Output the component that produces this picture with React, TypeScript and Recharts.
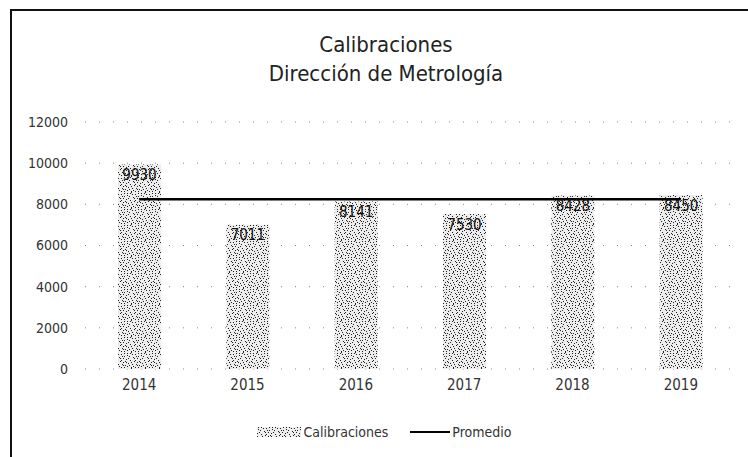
import React from 'react';
import { ComposedChart, Bar, Line, XAxis, YAxis, CartesianGrid, LabelList, Legend } from 'recharts';

const years = ['2014', '2015', '2016', '2017', '2018', '2019'];
const calibraciones = [9930, 7011, 8141, 7530, 8428, 8450];
const promedio = [8248, 8248, 8248, 8248, 8248, 8248];
const yTicks = [0, 2000, 4000, 6000, 8000, 10000, 12000];
const titleLines = ['Calibraciones', 'Dirección de Metrología'];
const seriesNames = ['Calibraciones', 'Promedio'];

const data = years.map((y, i) => ({ year: y, calibraciones: calibraciones[i], promedio: promedio[i] }));

const FONT = '"Liberation Sans Narrow", "DejaVu Sans Condensed", "Liberation Sans", sans-serif';

const DOTS: [number, number][] = [
  [1, 1], [5, 0], [9, 2], [12, 1], [3, 4], [7, 5], [11, 6], [0, 7], [4, 8], [8, 9],
  [13, 9], [2, 11], [6, 12], [10, 12], [13, 13], [1, 14], [5, 15], [9, 15], [12, 4], [6, 2],
  [3, 13], [11, 10], [8, 6], [0, 10], [2, 6], [10, 4], [7, 14], [4, 1], [12, 15], [9, 8],
  [5, 10], [1, 3], [11, 13],
];

const LegendContent = () => (
  <div style={{ display: 'flex', justifyContent: 'center', alignItems: 'center', fontFamily: FONT, fontSize: 14, color: '#333', paddingLeft: 20 }}>
    <svg width={44} height={12} style={{ marginRight: 3 }}>
      <rect x={0} y={1} width={44} height={10} fill="url(#stipple)" />
    </svg>
    <span style={{ marginRight: 22 }}>{seriesNames[0]}</span>
    <svg width={40} height={12} style={{ marginRight: 2 }}>
      <line x1={0} y1={6} x2={40} y2={6} stroke="#000" strokeWidth={2} />
    </svg>
    <span>{seriesNames[1]}</span>
  </div>
);

export default function App() {
  return (
    <div style={{ position: 'absolute', left: 0, top: 0, width: 748, height: 457, background: '#fff', overflow: 'hidden' }}>
      <div style={{ position: 'absolute', left: 10, top: 9, width: 760, height: 470, borderLeft: '2px solid #111', borderTop: '2px solid #111' }} />
      <div style={{ position: 'absolute', left: 0, top: 30, width: 772, textAlign: 'center', fontFamily: FONT, fontSize: 22, lineHeight: '29px', color: '#222' }}>
        <div>{titleLines[0]}</div>
        <div>{titleLines[1]}</div>
      </div>
      <div style={{ position: 'absolute', left: 0, top: 0 }}>
        <ComposedChart width={748} height={457} data={data} margin={{ top: 122, right: 13, left: 10, bottom: 28 }}>
          <defs>
            <pattern id="stipple" width={14} height={16} patternUnits="userSpaceOnUse">
              <rect width={14} height={16} fill="#ededed" />
              {DOTS.map(([x, y], i) => (
                <rect key={i} x={x} y={y} width={1} height={1} fill="#222" />
              ))}
            </pattern>
          </defs>
          <CartesianGrid vertical={false} stroke="#888" strokeDasharray="1 13" />
          <XAxis dataKey="year" axisLine={false} tickLine={false} height={30} tickMargin={4}
            tick={{ fontFamily: FONT, fontSize: 15, fill: '#333' }} />
          <YAxis domain={[0, 12000]} ticks={yTicks} width={75} axisLine={false} tickLine={false} tickMargin={11}
            tick={{ fontFamily: FONT, fontSize: 14, fill: '#333' }} interval={0} />
          <Legend verticalAlign="bottom" height={30} wrapperStyle={{ top: 424, left: 0, width: 748 }} content={<LegendContent />} />
          <Bar dataKey="calibraciones" name={seriesNames[0]} fill="url(#stipple)" barSize={43} isAnimationActive={false}>
            <LabelList dataKey="calibraciones" position="insideTop" offset={5}
              style={{ fontFamily: FONT, fontSize: 15, fill: '#111' }} />
          </Bar>
          <Line dataKey="promedio" name={seriesNames[1]} stroke="#000" strokeWidth={2.5} dot={false} activeDot={false} isAnimationActive={false} />
        </ComposedChart>
      </div>
    </div>
  );
}
